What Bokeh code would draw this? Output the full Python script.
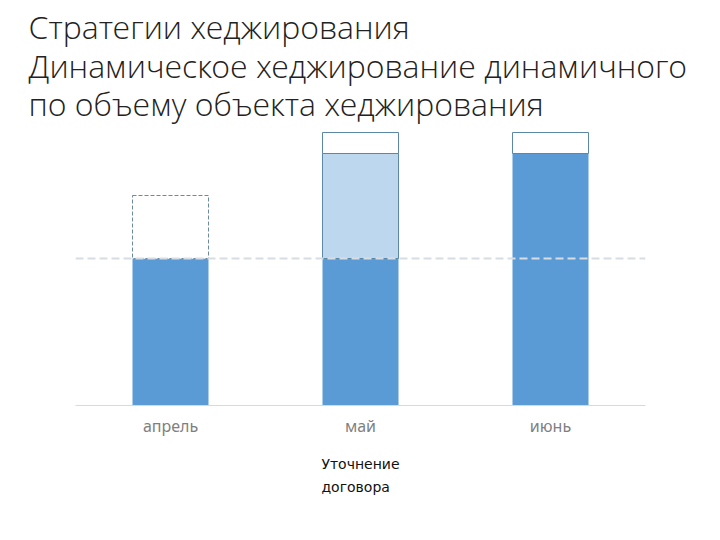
from bokeh.plotting import figure
from bokeh.models import Range1d, FactorRange, Span, Title
from bokeh.embed import file_html
from bokeh.resources import INLINE

# ---- data ----
months = ["апрель", "май", "июнь"]
base_hedge = [3.5, 3.5, 6.0]        # solid (hedged) volume
refined_bottom = [3.5]              # May: refined contract part
refined_top = [6.0]
extra_bottom = [6.0, 6.0]           # May, June: open remainder
extra_top = [6.5, 6.5]
planned_bottom = [3.5]              # April: planned (dashed) volume
planned_top = [5.0]
hedge_level = 3.5
title_lines = ["Стратегии хеджирования",
               "Динамическое хеджирование динамичного",
               "по объему объекта хеджирования"]
note_lines = ["Уточнение", "договора"]

W, H = 704, 524
LB, TB = 75, 125
frame_w, frame_h = 570, 280
RB = W - LB - frame_w
BB = H - TB - frame_h
y_max = 280 / 42.0

p = figure(width=W, height=H, x_range=FactorRange(*months, range_padding=0),
           y_range=Range1d(0, y_max), output_backend="svg", toolbar_location=None,
           min_border_left=LB, min_border_right=RB, min_border_top=TB,
           min_border_bottom=BB)
p.outline_line_color = None
p.xgrid.visible = False
p.ygrid.visible = False
p.yaxis.visible = False
p.xaxis.axis_line_color = "#d9d9d9"
p.xaxis.axis_line_width = 1
p.xaxis.major_tick_line_color = None
p.xaxis.minor_tick_line_color = None
p.xaxis.major_label_text_color = "#7f7f7f"
p.xaxis.major_label_text_font = "Noto Sans"
p.xaxis.major_label_text_font_size = "16px"
p.xaxis.major_label_standoff = 3

bw = 0.4
p.vbar(x=months, bottom=0, top=base_hedge, width=bw, fill_color="#5b9bd5",
       line_color=None)
p.vbar(x=[months[1]], bottom=refined_bottom, top=refined_top, width=bw,
       fill_color="#bdd7ee", line_color="#5b87a8", line_width=1)
p.vbar(x=months[1:], bottom=extra_bottom, top=extra_top, width=bw,
       fill_color="white", line_color="#5b87a8", line_width=1)
p.vbar(x=[months[0]], bottom=planned_bottom, top=planned_top, width=bw,
       fill_color="white", line_color="#6b8aa3", line_width=1, line_dash="4 2")

p.add_layout(Span(location=hedge_level, dimension="width", line_color="#d8dde3",
                  line_width=2, line_dash="8 4"))

p.add_layout(Title(text="\n".join(title_lines), align="left", offset=-47,
                   text_font="'Open Sans Light', 'Open Sans'",
                   text_font_size="32px", text_font_style="normal",
                   text_line_height=0.9, text_color="#222222", standoff=0),
             "above")

p.add_layout(Title(text="\n".join(note_lines), align="center", offset=-8,
                   text_font="DejaVu Sans", text_font_size="14px",
                   text_font_style="normal", text_line_height=1.45,
                   text_color="#111111", standoff=30), "below")

open("out.html", "w").write(file_html(p, INLINE))
